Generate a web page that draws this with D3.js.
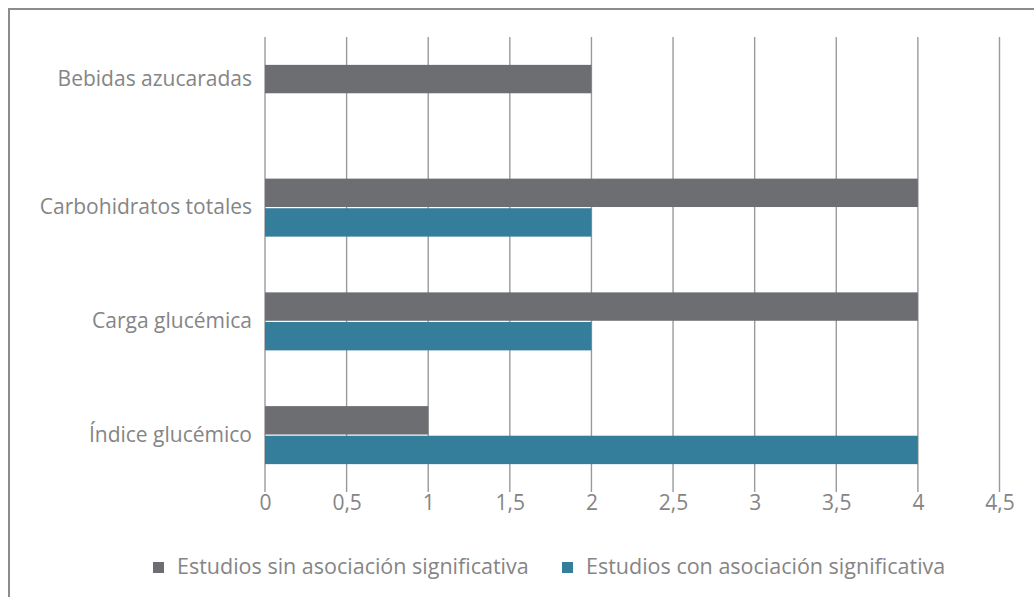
<!DOCTYPE html>
<html>
<head>
<meta charset="utf-8">
<script src="https://cdn.jsdelivr.net/npm/d3@7"></script>
<style>
  html, body { margin: 0; padding: 0; background: #fff; }
  svg { display: block; font-family: "Open Sans", "Noto Sans", sans-serif; font-weight: 400; }
</style>
</head>
<body>
<svg id="chart" width="1034" height="597"></svg>
<script>
// Categories (top to bottom) and the two series
const categories = ["Bebidas azucaradas", "Carbohidratos totales", "Carga glucémica", "Índice glucémico"];
const sinAsociacion = [2, 4, 4, 1];
const conAsociacion = [0, 2, 2, 4];
const seriesNames = ["Estudios sin asociación significativa", "Estudios con asociación significativa"];
const seriesColors = ["#6d6e72", "#347e9c"];
const tickValues = [0, 0.5, 1, 1.5, 2, 2.5, 3, 3.5, 4, 4.5];

const svg = d3.select("#chart");
const W = 1034, H = 597;
const margin = { left: 265, right: W - 999.5, top: 37, bottom: H - 492 };
const textColor = "#858585";
const fontSize = 21;

// Outer frame (runs off the right and bottom edges)
svg.append("rect")
  .attr("x", 9).attr("y", 9)
  .attr("width", 1040).attr("height", 600)
  .attr("fill", "none").attr("stroke", "#8c8c8c").attr("stroke-width", 2);

const x = d3.scaleLinear().domain([0, 4.5]).range([margin.left, W - margin.right]);
const y = d3.scaleBand().domain(categories).range([margin.top, H - margin.bottom]).paddingInner(0.49).paddingOuter(0.245);

// Vertical gridlines
svg.append("g")
  .selectAll("line")
  .data(tickValues)
  .join("line")
  .attr("x1", d => x(d)).attr("x2", d => x(d))
  .attr("y1", margin.top).attr("y2", H - margin.bottom)
  .attr("stroke", "#9a9a9a").attr("stroke-width", 1.4);

// Bars: grey above, teal below within each category
const barH = y.bandwidth() / 2;
const rows = categories.map((c, i) => ({ c, vals: [sinAsociacion[i], conAsociacion[i]] }));
const g = svg.append("g");
rows.forEach(r => {
  r.vals.forEach((v, j) => {
    if (v <= 0) return;
    g.append("rect")
      .attr("x", x(0))
      .attr("y", y(r.c) + j * barH + (j === 1 ? 0.6 : 0))
      .attr("width", x(v) - x(0))
      .attr("height", barH - 0.6)
      .attr("fill", seriesColors[j]);
  });
});

// Category labels, centred on the bars present in each row
const labelY = r => {
  const present = r.vals.map((v, j) => v > 0 ? j : null).filter(j => j !== null);
  const lo = d3.min(present), hi = d3.max(present);
  return y(r.c) + (lo + hi + 1) / 2 * barH;
};
svg.append("g")
  .selectAll("text")
  .data(rows)
  .join("text")
  .attr("x", margin.left - 13)
  .attr("y", d => labelY(d))
  .attr("dy", "0.32em")
  .attr("text-anchor", "end")
  .attr("fill", textColor)
  .attr("font-size", fontSize)
  .text(d => d.c);

// X axis
const fmt = d => String(d).replace(".", ",");
const axis = svg.append("g")
  .attr("transform", `translate(0,${H - margin.bottom})`)
  .call(d3.axisBottom(x).tickValues(tickValues).tickFormat(fmt).tickSize(0).tickPadding(3));
axis.select(".domain").remove();
axis.selectAll("text")
  .attr("fill", textColor)
  .attr("font-size", fontSize)
  .attr("font-family", "\"Open Sans\", sans-serif")
  .attr("font-weight", 400);

// Legend
const legend = svg.append("g");
const legendX = [153, 562];
seriesNames.forEach((name, i) => {
  legend.append("rect")
    .attr("x", legendX[i]).attr("y", 562)
    .attr("width", 11).attr("height", 11)
    .attr("fill", seriesColors[i]);
  legend.append("text")
    .attr("x", legendX[i] + 24).attr("y", 574)
    .attr("fill", textColor)
    .attr("font-size", 21.5)
    .text(name);
});
</script>
</body>
</html>
